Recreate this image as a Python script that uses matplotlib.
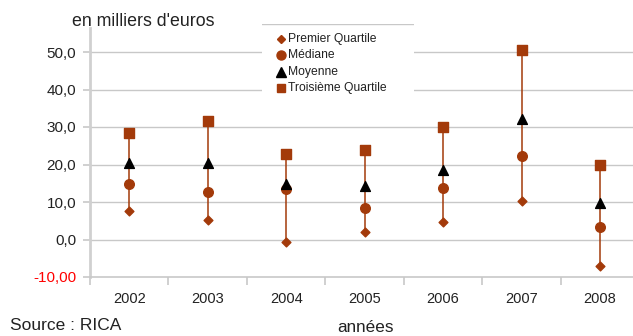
import matplotlib
matplotlib.use("Agg")
import matplotlib.pyplot as plt
from matplotlib.patches import Rectangle
from matplotlib.lines import Line2D
import numpy as np

plt.rcParams['font.family'] = ['Liberation Sans', 'DejaVu Sans']

years = ["2002", "2003", "2004", "2005", "2006", "2007", "2008"]
premier_quartile = [7.5, 5.3, -0.7, 2.0, 4.6, 10.3, -7.1]
mediane = [14.8, 12.6, 13.5, 8.4, 13.8, 22.3, 3.4]
moyenne = [20.3, 20.5, 14.7, 14.4, 18.6, 32.2, 9.8]
troisieme_quartile = [28.3, 31.5, 22.8, 24.0, 30.1, 50.5, 19.8]
ytick_values = [-10, 0, 10, 20, 30, 40, 50]
ytick_labels = ["-10,00", "0,0", "10,0", "20,0", "30,0", "40,0", "50,0"]

brown = "#A33A0A"
grid_col = "#C8C8C8"
text_col = "#222222"

W, H = 633, 336
fig = plt.figure(figsize=(W / 100, H / 100), dpi=100)
ax = fig.add_axes([90 / W, 1 - 277 / H, (633 - 90) / W, (277 - 28) / H])

x = np.arange(len(years))
ax.set_xlim(-0.5, 6.42)
ax.set_ylim(-10, 56.4)

# high-low lines from first to third quartile
ax.vlines(x, premier_quartile, troisieme_quartile, color=brown, lw=1.1, zorder=2)
ax.scatter(x, premier_quartile, marker="D", s=20, color=brown, zorder=3)
ax.scatter(x, mediane, marker="o", s=48, color=brown, zorder=3)
ax.scatter(x, moyenne, marker="^", s=50, color="black", zorder=4)
ax.scatter(x, troisieme_quartile, marker="s", s=45, color=brown, zorder=3)

# horizontal gridlines
for v in ytick_values[1:]:
    ax.axhline(v, color=grid_col, lw=1.0, zorder=0)

for side in ("top", "right"):
    ax.spines[side].set_visible(False)
ax.spines["left"].set_color("#D0D0D0")
ax.spines["left"].set_linewidth(2.0)
ax.spines["bottom"].set_color("#C8C8C8")
ax.spines["bottom"].set_linewidth(1.2)

ax.set_yticks(ytick_values)
ax.set_yticklabels(ytick_labels, fontsize=11, color=text_col)
ax.get_yticklabels()[0].set_color("red")
ax.tick_params(axis="y", length=5, width=1.2, color="#C8C8C8", pad=5)

# category boundaries as ticks, labels centered
ax.set_xticks(np.arange(-0.5, 6.5, 1.0))
ax.set_xticklabels([])
ax.set_xticks(x, minor=True)
ax.set_xticklabels(years, minor=True, fontsize=10.5, color=text_col)
ax.tick_params(axis="x", which="major", length=6, width=1.2, color="#C8C8C8", direction="out")
ax.tick_params(axis="x", which="minor", length=0, pad=11)

# legend box
leg_ax = fig.add_axes([262 / W, 1 - 110 / H, (414 - 262) / W, (110 - 24) / H])
leg_ax.set_xlim(0, 1)
leg_ax.set_ylim(0, 1)
leg_ax.axis("off")
leg_ax.add_patch(Rectangle((0, 0), 1, 1, facecolor="white", edgecolor="none", zorder=0))
leg_ax.add_line(Line2D([0, 1], [1, 1], color="#C8C8C8", lw=1.0))
entries = [("D", brown, 4.5, "Premier Quartile"),
           ("o", brown, 6.5, "Médiane"),
           ("^", "black", 6.5, "Moyenne"),
           ("s", brown, 6.0, "Troisième Quartile")]
rows_px = [39, 55, 72, 88]
for (m, c, ms, lab), ry in zip(entries, rows_px):
    yy = 1 - (ry - 24) / (110 - 24)
    leg_ax.plot([(281 - 262) / 152], [yy], marker=m, color=c, ms=ms, ls="none")
    leg_ax.text((288 - 262) / 152, yy, lab, fontsize=8.7, va="center", ha="left", color=text_col)

fig.text(72 / W, 1 - 22 / H, "en milliers d'euros", fontsize=12.8, va="center", ha="left", color=text_col)
fig.text(10 / W, 1 - 325 / H, "Source : RICA", fontsize=12.5, va="center", ha="left", color=text_col)
fig.text(365 / W, 1 - 327 / H, "années", fontsize=12.3, va="center", ha="center", color=text_col)

fig.savefig("out.png", dpi=100)
